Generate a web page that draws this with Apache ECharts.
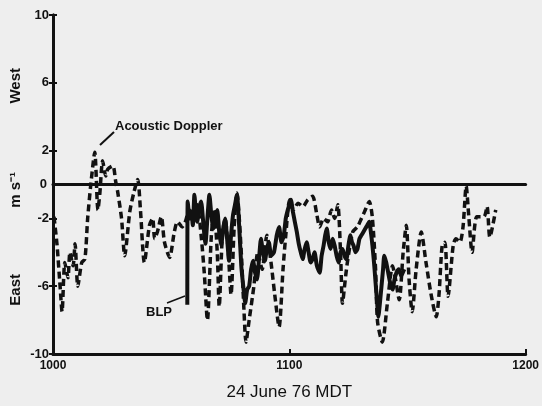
<!DOCTYPE html>
<html>
<head>
<meta charset="utf-8">
<script src="https://cdn.jsdelivr.net/npm/echarts@6/dist/echarts.min.js"></script>
<style>
html,body{margin:0;padding:0;background:#eeeeee;}
#c{width:542px;height:406px;}
</style>
</head>
<body>
<div id="c"></div>
<script>
// minutes after 1000 MDT, wind component (m/s, + = West)
const dopplerTime = [0.25,1.0,1.8,2.3,3.0,3.8,4.3,5.1,5.6,6.3,7.3,8.1,8.8,9.6,10.6,11.4,11.9,12.6,13.4,13.9,15.2,15.9,16.4,17.4,18.2,19.5,20.5,21.5,22.2,23.2,24.5,25.3,25.8,26.5,27.5,28.3,29.6,30.8,31.6,32.8,33.6,34.6,35.6,36.6,37.6,38.4,39.2,40.2,40.9,41.7,42.2,43.0,43.7,44.5,45.2,46.0,46.7,47.8,48.5,49.0,49.8,51.0,52.0,53.1,54.3,55.3,56.3,57.4,58.4,59.1,60.1,61.1,62.2,63.4,64.7,65.9,67.0,67.7,68.7,69.7,70.7,71.5,72.3,73.0,73.5,74.3,74.8,76.1,77.3,78.3,79.1,80.3,81.1,81.9,82.4,83.6,84.9,86.2,86.9,87.9,88.9,89.7,90.4,91.2,92.2,93.5,94.7,96.0,97.3,98.0,98.8,99.5,100.3,101.6,102.3,103.3,104.1,104.9,105.6,106.4,107.6,109.4,110.2,110.9,112.4];
const dopplerValue = [-1.9,-3.5,-6.0,-7.5,-4.6,-5.5,-4.0,-4.8,-3.5,-6.0,-4.6,-4.4,-2.0,0.0,1.9,-1.5,-0.5,1.4,0.5,0.9,1.1,0.2,-0.4,-2.0,-4.2,-1.6,-0.5,0.3,-1.5,-4.6,-2.4,-2.0,-3.2,-2.8,-1.9,-3.4,-4.3,-2.8,-2.2,-2.5,-2.2,-1.5,-2.0,-1.2,-3.0,-5.2,-8.0,-3.0,-1.5,-4.0,-7.2,-3.0,-2.0,-4.0,-6.5,-2.5,-0.5,-4.0,-7.5,-9.3,-8.0,-6.0,-4.0,-5.0,-3.0,-4.5,-6.5,-8.4,-5.0,-3.0,-0.9,-1.5,-1.1,-1.3,-0.9,-0.7,-1.8,-2.5,-2.0,-2.2,-1.5,-2.0,-1.2,-4.0,-7.0,-5.4,-4.5,-2.8,-2.5,-2.0,-1.6,-1.0,-2.0,-5.0,-8.1,-9.3,-7.0,-4.8,-5.5,-6.8,-4.0,-2.4,-5.6,-7.5,-5.0,-2.8,-4.6,-6.5,-7.8,-6.5,-3.6,-3.4,-6.6,-3.6,-3.2,-3.4,-2.5,-0.1,-2.0,-4.0,-1.9,-1.9,-1.3,-3.1,-1.5];
const blpTime = [34.1,34.2,34.7,35.1,35.5,35.9,36.3,36.6,37.1,37.6,38.2,38.7,39.2,39.7,40.2,40.7,41.2,41.7,42.2,42.7,43.2,43.7,44.2,44.7,45.2,45.7,46.2,46.7,47.3,47.8,48.3,48.8,49.3,49.8,50.3,50.8,51.3,51.8,52.3,52.8,53.3,53.8,54.3,54.8,55.4,56.1,56.8,57.4,58.0,58.6,59.1,59.6,60.0,60.4,60.9,61.4,61.9,62.4,62.9,63.4,63.9,64.4,64.9,65.4,65.9,66.4,67.0,67.7,68.2,68.7,69.1,69.5,70.0,70.5,71.0,71.5,72.0,72.5,73.0,73.5,74.0,74.5,75.0,75.5,75.9,76.3,76.8,77.3,77.8,78.3,78.8,79.3,79.8,80.3,80.7,81.1,81.5,81.9,82.3,82.6,83.0,83.4,83.8,84.1,84.6,85.1,85.6,86.2,86.7,87.2,87.8,88.4,88.8,89.2];
const blpValue = [-7.1,-1.0,-2.0,-1.6,-2.4,-0.6,-1.8,-2.2,-1.4,-1.0,-2.4,-3.5,-2.0,-0.6,-1.8,-2.6,-2.0,-1.5,-2.8,-3.6,-2.6,-2.0,-3.2,-4.5,-3.0,-1.8,-1.2,-0.6,-2.6,-4.8,-6.0,-7.0,-6.2,-6.0,-5.0,-4.5,-5.2,-5.6,-4.4,-3.2,-4.0,-4.5,-3.8,-3.4,-4.2,-4.0,-3.0,-2.5,-3.4,-3.0,-2.0,-1.5,-1.2,-0.9,-1.6,-2.2,-2.8,-3.5,-4.0,-4.4,-3.8,-3.4,-4.0,-4.6,-4.4,-4.0,-4.8,-5.2,-4.2,-3.6,-3.0,-2.6,-3.4,-3.8,-3.2,-3.6,-4.2,-4.6,-4.0,-3.8,-4.2,-4.4,-3.6,-3.0,-3.4,-3.6,-4.0,-3.8,-3.2,-3.0,-2.8,-2.6,-2.4,-2.2,-2.8,-3.6,-4.6,-5.8,-7.0,-7.8,-7.0,-6.0,-5.0,-4.2,-4.6,-5.2,-5.8,-6.2,-5.6,-5.2,-5.0,-5.4,-5.2,-5.0];
const xTickLabels = ['1000','1100','1200'];
const seriesNames = ['Acoustic Doppler','BLP'];

const zip = (t, v) => t.map((x, i) => [x, v[i]]);
const chart = echarts.init(document.getElementById('c'), null, {renderer:'canvas'});
const txt = {color:'#111', fontFamily:'Liberation Sans, Arial, sans-serif', fontWeight:'bold'};
const yAxisBase = {
  type:'value', min:-10, max:10, interval:4,
  axisLine:{show:true, lineStyle:{color:'#111', width:3}},
  axisTick:{show:true, length:4, lineStyle:{color:'#111', width:2}},
  splitLine:{show:false}
};
chart.setOption({
  backgroundColor:'#eeeeee',
  animation:false,
  grid:{left:53, right:14, top:15, bottom:50},
  xAxis:[{
    type:'value', min:0, max:120, interval:60,
    axisLine:{show:true, onZero:false, lineStyle:{color:'#111', width:3}},
    axisTick:{show:true, inside:true, length:5, lineStyle:{color:'#111', width:2}},
    splitLine:{show:false},
    axisLabel:Object.assign({fontSize:12, margin:6, formatter:v => xTickLabels[Math.round(v/60)]}, txt),
    name:'24 June 76 MDT', nameLocation:'middle', nameGap:30,
    nameTextStyle:{color:'#111', fontFamily:'Liberation Sans, Arial, sans-serif', fontSize:17}
  },{
    type:'value', position:'top', min:0, max:120,
    axisLine:{show:true, lineStyle:{color:'#111', width:3}},
    axisTick:{show:false}, axisLabel:{show:false}, splitLine:{show:false}
  }],
  yAxis:[
    Object.assign({}, yAxisBase, {axisLabel:Object.assign({fontSize:13, margin:4}, txt)}),
    Object.assign({}, yAxisBase, {position:'right', axisLabel:{show:false}})
  ],
  series:[{
    name:seriesNames[0], type:'line', data:zip(dopplerTime, dopplerValue),
    symbol:'none', smooth:0.25,
    lineStyle:{color:'#111', width:3.5, type:[7,4]},
    markLine:{
      silent:true, symbol:'none',
      lineStyle:{color:'#111', width:2, type:'solid'},
      label:Object.assign({position:'start', formatter:'0', fontSize:13, distance:6}, txt),
      data:[{yAxis:0}]
    },
    z:3
  },{
    name:seriesNames[1], type:'line', data:zip(blpTime, blpValue),
    symbol:'none', smooth:0.2,
    lineStyle:{color:'#111', width:4, type:'solid'},
    z:4
  }],
  graphic:[
    {type:'text', left:8, top:68, rotation:Math.PI/2, style:{text:'West', fill:'#111', font:'bold 15px Liberation Sans, Arial, sans-serif'}},
    {type:'text', left:8, top:172, rotation:Math.PI/2, style:{text:'m s⁻¹', fill:'#111', font:'bold 15px Liberation Sans, Arial, sans-serif'}},
    {type:'text', left:8, top:274, rotation:Math.PI/2, style:{text:'East', fill:'#111', font:'bold 15px Liberation Sans, Arial, sans-serif'}},
    {type:'text', left:115, top:120, style:{text:seriesNames[0], fill:'#111', font:'bold 13px Liberation Sans, Arial, sans-serif'}},
    {type:'line', shape:{x1:100, y1:145, x2:114, y2:132}, style:{stroke:'#111', lineWidth:2}},
    {type:'text', left:146, top:306, style:{text:seriesNames[1], fill:'#111', font:'bold 13px Liberation Sans, Arial, sans-serif'}},
    {type:'line', shape:{x1:167, y1:303, x2:185, y2:296}, style:{stroke:'#111', lineWidth:1.5}}
  ]
});
</script>
</body>
</html>
